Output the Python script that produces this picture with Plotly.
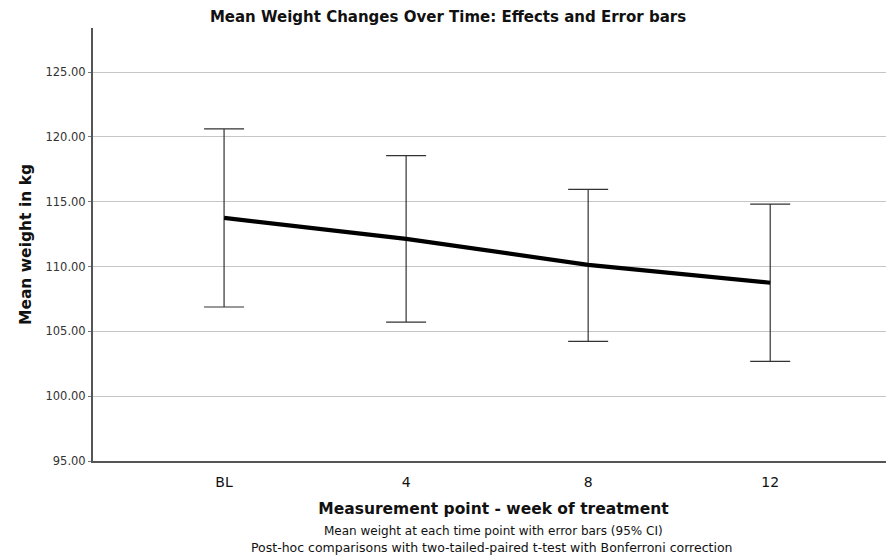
import plotly.graph_objects as go

categories = ["BL", "4", "8", "12"]
mean_weight = [113.75, 112.13, 110.13, 108.75]
ci_upper = [120.62, 118.56, 115.95, 114.82]
ci_lower = [106.88, 105.72, 104.23, 102.68]
y_ticks = [95, 100, 105, 110, 115, 120, 125]

err_plus = [u - m for u, m in zip(ci_upper, mean_weight)]
err_minus = [m - l for m, l in zip(mean_weight, ci_lower)]

font_family = "DejaVu Sans, Liberation Sans, sans-serif"

# The page body has an 8px default margin, so the figure is sized to fit the window.
W, H = 886, 552
L, T, B = 85, 20, 99
plot_h = H - T - B


def py(viewport_y):
    """viewport pixel y -> paper coordinate"""
    return ((H - B) - (viewport_y - 8)) / plot_h


fig = go.Figure()
fig.add_trace(go.Scatter(
    x=categories,
    y=mean_weight,
    mode="lines",
    line=dict(color="#000000", width=4.2),
    error_y=dict(
        type="data",
        symmetric=False,
        array=err_plus,
        arrayminus=err_minus,
        color="#333333",
        thickness=1.2,
        width=20,
    ),
    showlegend=False,
    hoverinfo="skip",
))

fig.update_layout(
    width=W,
    height=H,
    margin=dict(l=L, r=0, t=T, b=B, autoexpand=False),
    paper_bgcolor="white",
    plot_bgcolor="white",
    font=dict(family=font_family, color="#222222"),
    title=dict(
        text="<b>Mean Weight Changes Over Time: Effects and Error bars</b>",
        x=(448 - 8) / W, xanchor="center", xref="container",
        y=1 - 9 / H, yanchor="middle", yref="container",
        font=dict(size=15, color="#111111", family=font_family),
    ),
    xaxis=dict(
        type="category",
        range=[-0.72, 3.68],
        showgrid=False,
        showline=True,
        linecolor="#555555",
        linewidth=2,
        ticks="",
        ticklabelstandoff=7,
        tickfont=dict(size=14, color="#111111"),
        title=dict(
            text="<b>Measurement point - week of treatment</b>",
            font=dict(size=15.5, color="#111111"),
            standoff=14,
        ),
        zeroline=False,
    ),
    yaxis=dict(
        range=[95, 128.4],
        tickvals=y_ticks,
        tickformat=".2f",
        showgrid=True,
        gridcolor="#c6c6c6",
        gridwidth=1,
        showline=True,
        linecolor="#555555",
        linewidth=2,
        ticks="outside",
        ticklen=3,
        tickcolor="#777777",
        tickfont=dict(size=11.5, color="#333333"),
        title=dict(
            text="<b>Mean weight in kg</b>",
            font=dict(size=15.5, color="#111111"),
            standoff=10,
        ),
        zeroline=False,
    ),
    annotations=[
        dict(
            text="Mean weight at each time point with error bars (95% CI)",
            x=0.5, xref="paper", xanchor="center",
            y=py(530.5), yref="paper", yanchor="middle",
            showarrow=False,
            font=dict(size=12, color="#111111", family=font_family),
        ),
        dict(
            text="Post-hoc comparisons with two-tailed-paired t-test with Bonferroni correction",
            x=0.497, xref="paper", xanchor="center",
            y=py(547.5), yref="paper", yanchor="middle",
            showarrow=False,
            font=dict(size=12.5, color="#111111", family=font_family),
        ),
    ],
)

fig.write_html("out.html")
